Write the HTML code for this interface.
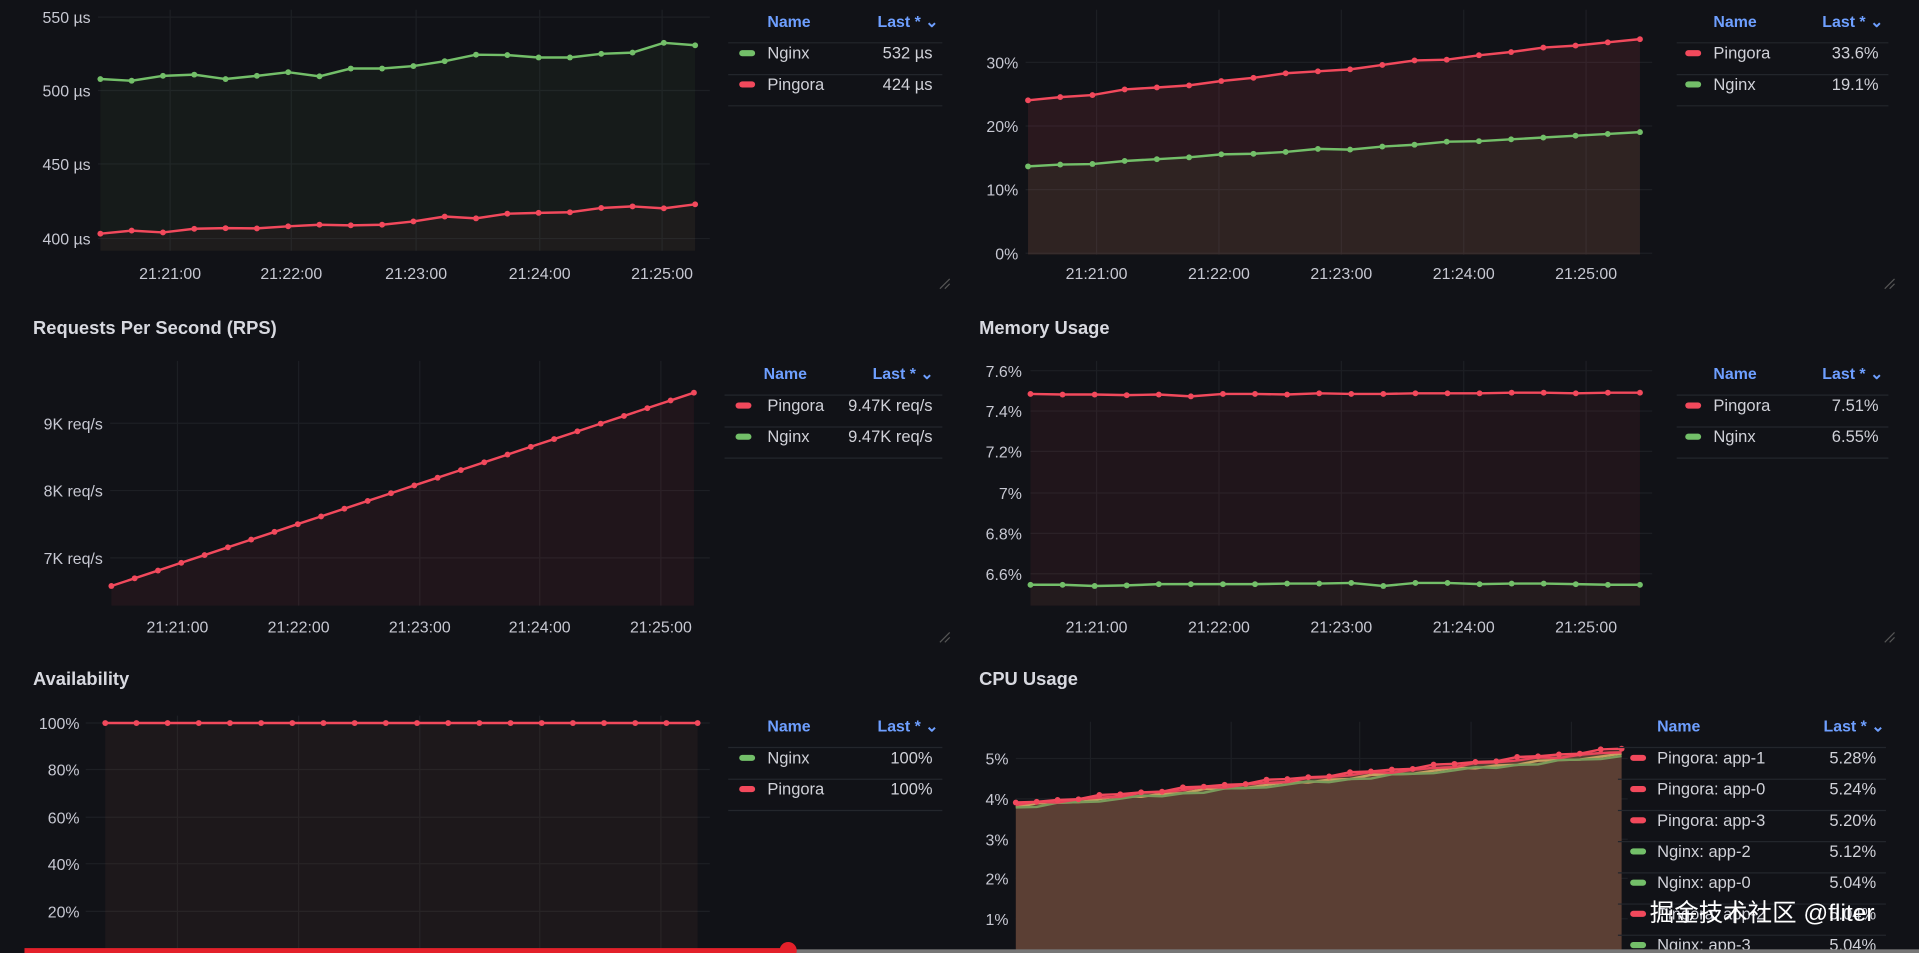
<!DOCTYPE html>
<html><head><meta charset="utf-8"><style>
html,body{margin:0;padding:0;background:#111217;overflow:hidden}
svg{display:block}
text{font-family:"Liberation Sans","Noto Sans CJK SC",sans-serif}
.t{fill:#c7c8d2;font-size:13px}
.h{fill:#d8d9e0;font-size:15px;font-weight:bold}
.b{fill:#6e9fff;font-size:13px;font-weight:bold}
.l{fill:#d0d1d8;font-size:13.5px}
</style></head><body>
<svg id="s" width="1919" height="953" viewBox="0 0 1568 779" preserveAspectRatio="none" xmlns="http://www.w3.org/2000/svg">
<rect width="1568" height="779" fill="#111217"/>
<g id="g"></g>
<text class="h" x="27" y="273">Requests Per Second (RPS)</text>
<text class="h" x="800" y="273">Memory Usage</text>
<text class="h" x="27" y="560">Availability</text>
<text class="h" x="800" y="560">CPU Usage</text>
<text x="1348" y="753" style="fill:#fff;font-size:20px">掘金技术社区 @fliter</text>
<rect x="20" y="775" width="623" height="4" fill="#e3202a"/>
<rect x="643" y="776" width="925" height="3" fill="#777"/>
<circle cx="644" cy="777" r="7" fill="#e3202a"/>
</svg>
<script>
var g=document.getElementById('g'),H='';
var R='#f2495c',G='#73bf69';
function T(x,y,s,c,a){H+='<text class="'+c+'" x="'+x+'" y="'+y+'"'+(a?' text-anchor="'+a+'"':'')+'>'+s+'</text>';}
function grid(x0,x1,y0,y1,hs,vs){hs.forEach(function(y){H+='<line x1="'+x0+'" x2="'+x1+'" y1="'+y+'" y2="'+y+'" stroke="#1d1f24"/>';});vs.forEach(function(x){H+='<line x1="'+x+'" x2="'+x+'" y1="'+y0+'" y2="'+y1+'" stroke="#1d1f24"/>';});}
function ser(x0,x1,ys,col,base,fill,dots){var n=ys.length,p=[];for(var i=0;i<n;i++)p.push([x0+(x1-x0)*i/(n-1),ys[i]]);
var s=p.map(function(q){return q[0].toFixed(1)+','+q[1].toFixed(1)}).join(' ');
if(fill)H+='<polygon points="'+x0+','+base+' '+s+' '+x1+','+base+'" fill="'+fill+'"/>';
H+='<polyline points="'+s+'" fill="none" stroke="'+col+'" stroke-width="2"/>';
if(dots!==false)p.forEach(function(q){H+='<circle cx="'+q[0]+'" cy="'+q[1]+'" r="2.4" fill="'+col+'"/>';});}
function lin(a,b,n,noise){var r=[];for(var i=0;i<n;i++)r.push(a+(b-a)*i/(n-1)+(noise?noise[i%noise.length]:0));return r;}
function legend(x,hdrX,nameX,swX,lastX,valX,y0,rows){T(hdrX,y0,'Name','b');T(lastX,y0,'Last * ⌄','b');
H+='<line x1="'+x+'" x2="'+(valX+8)+'" y1="'+(y0+13)+'" y2="'+(y0+13)+'" stroke="#23262c"/>';
rows.forEach(function(r,i){var y=y0+26+i*25.5;H+='<rect x="'+swX+'" y="'+(y-7)+'" width="13" height="5" rx="2.5" fill="'+r[2]+'"/>';
T(nameX,y,r[0],'l');T(valX,y,r[1],'l','end');H+='<line x1="'+x+'" x2="'+(valX+8)+'" y1="'+(y+13)+'" y2="'+(y+13)+'" stroke="#23262c"/>';});}
function xt(xs,y){var l=['21:21:00','21:22:00','21:23:00','21:24:00','21:25:00'];xs.forEach(function(x,i){T(x,y,l[i],'t','middle');});}
function handle(x,y){H+='<path d="M'+x+','+(y+8)+' l8,-8 M'+(x+4)+','+(y+8)+' l4,-4" stroke="#555" stroke-width="1"/>';}
// Panel1
grid(80,580,8,205,[14,74,134,195],[139,238,340,441,541]);
T(74,19,'550 µs','t','end');T(74,79,'500 µs','t','end');T(74,139,'450 µs','t','end');T(74,200,'400 µs','t','end');
ser(82,568,[64.6,66,62,61,64.6,62,59,62.4,56,56,54,50,44.7,45,47,47,44,43,35,37],G,205,'rgba(115,191,105,0.05)');
ser(82,568,[191,188.5,190,187,186.5,186.7,185,183.7,184.2,183.7,181,177,178.5,174.7,174,173.5,170,168.7,170.3,167],R,205,'rgba(242,73,92,0.04)');
xt([139,238,340,441,541],228);
legend(595,627,627,604,717,762,22,[['Nginx','532 µs',G],['Pingora','424 µs',R]]);handle(768,228);
// Panel2
grid(838,1350,8,208,[51,103,155,207],[896,996,1096,1196,1296]);
T(832,56,'30%','t','end');T(832,108,'20%','t','end');T(832,160,'10%','t','end');T(832,212,'0%','t','end');
ser(840,1340,lin(82,32,20,[0,0,1,-1,0,1,0,0,-1,0,1,0,-1,1,0,0,-1,0,0,0]),R,208,'rgba(242,73,92,0.11)');
ser(840,1340,lin(136,108,20,[0,0,1,0,0,0,-1,0,0,-1,1,0,0,-1,0,0,0,0,0,0]),G,208,'rgba(115,191,105,0.07)');
xt([896,996,1096,1196,1296],228);
legend(1370,1400,1400,1377,1489,1535,22,[['Pingora','33.6%',R],['Nginx','19.1%',G]]);handle(1540,228);
// Panel3
grid(90,580,295,495,[346,401,456],[145,244,343,441,540]);
T(84,351,'9K req/s','t','end');T(84,406,'8K req/s','t','end');T(84,461,'7K req/s','t','end');
ser(91,567,lin(479,321,26),R,495,'rgba(242,73,92,0.07)');
xt([145,244,343,441,540],517);
legend(592,624,627,601,713,762,310,[['Pingora','9.47K req/s',R],['Nginx','9.47K req/s',G]]);handle(768,517);
// Panel4
grid(842,1350,295,495,[303,336,369,403,436,469],[896,996,1096,1196,1296]);
['7.6%','7.4%','7.2%','7%','6.8%','6.6%'].forEach(function(s,i){T(835,[308,341,374,408,441,474][i],s,'t','end');});
ser(842,1340,[322,322.5,322.5,323,322.5,324,322,322,322.5,321.5,322,322,321.5,321.5,321.5,321,321,321.5,321,321],R,495,'rgba(242,73,92,0.07)');
ser(842,1340,[478,478,479,478.5,477.5,477.5,477.5,477.5,477,477,476.5,479,476.5,476.5,477.5,477,477,477.5,478,478],G,495,'rgba(115,191,105,0.04)');
xt([896,996,1096,1196,1296],517);
legend(1370,1400,1400,1377,1489,1535,310,[['Pingora','7.51%',R],['Nginx','6.55%',G]]);handle(1540,517);
// Panel5
grid(70,580,585,779,[591,629,668,706,745],[145,244,343,441,540]);
['100%','80%','60%','40%','20%'].forEach(function(s,i){T(65,[596,634,673,711,750][i],s,'t','end');});
H+='<rect x="86" y="591" width="484" height="188" fill="rgba(120,70,60,0.12)"/>';
ser(86,570,lin(591,591,20),R,779,null);
legend(595,627,627,604,717,762,598,[['Nginx','100%',G],['Pingora','100%',R]]);
// Panel6
grid(830,1330,590,779,[620,653,686,718,751],[891,1006,1111,1202,1284]);
['5%','4%','3%','2%','1%'].forEach(function(s,i){T(824,[625,658,691,723,756][i],s,'t','end');});
H+='<polygon points="830,779 830,658 1325,613 1325,779" fill="#5b3f34"/>';
ser(830,1325,lin(659,617,30,[1,-1,0,1,0,-1,1,0]),'#c8a060',779,null,false);
ser(830,1325,lin(660,618,30,[0,1,-1,0,1,0,-1,1]),'#7a9a5a',779,null,false);
ser(830,1325,lin(658,614,30,[0,-1,1,0,0,1,-1,0]),'#e8455a',779,null,false);
ser(830,1325,lin(657,612,30,[-1,0,0,1,-1,0,0,1]),R,779,null,true);
legend(1322,1354,1354,1332,1490,1533,598,[['Pingora: app-1','5.28%',R],['Pingora: app-0','5.24%',R],['Pingora: app-3','5.20%',R],['Nginx: app-2','5.12%',G],['Nginx: app-0','5.04%',G],['Pingora: app-2','5.04%',R],['Nginx: app-3','5.04%',G]]);
g.innerHTML=H;
</script>
</body></html>
